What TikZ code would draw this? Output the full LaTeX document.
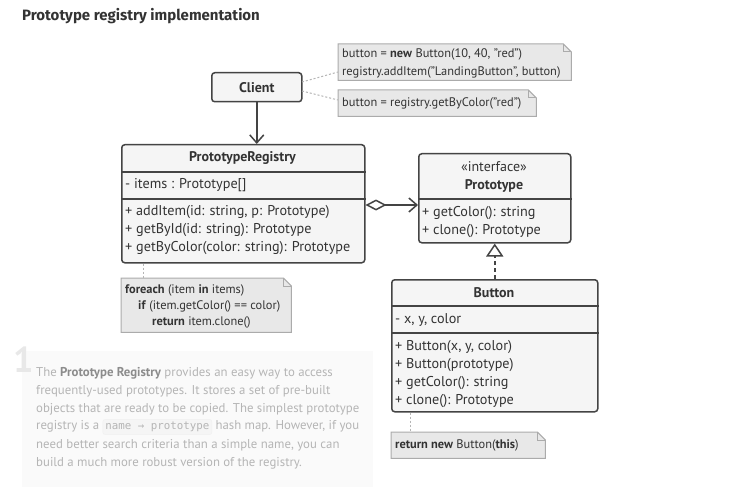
\documentclass[tikz,border=0pt]{standalone}
\usepackage{fontspec}
\setmainfont{PT Sans}
\newfontfamily\titlefont{Fira Sans}
\newfontfamily\codefont{DejaVu Sans Mono}
\usetikzlibrary{arrows.meta}
\definecolor{ink}{HTML}{444444}
\definecolor{txt}{HTML}{333333}
\definecolor{boxfill}{HTML}{F5F5F5}
\definecolor{notefill}{HTML}{E8E8E8}
\definecolor{noteline}{HTML}{ABABAB}
\definecolor{faint}{HTML}{B5B5B5}
\definecolor{panelfill}{HTML}{FAFAFA}
\tikzset{
  umlbox/.style={draw=ink, fill=boxfill, line width=1.5pt, rounded corners=3pt, anchor=north west, inner sep=0pt},
  sepline/.style={draw=ink, line width=1.5pt},
  notearea/.style={anchor=north west, inner sep=0pt},
  noteshape/.style={draw=noteline, fill=notefill, line width=1pt},
  lbl/.style={anchor=west, inner sep=0pt, text=txt, font=\fontsize{14.2}{16}\selectfont},
  nlbl/.style={anchor=west, inner sep=0pt, text=txt, font=\fontsize{12.4}{14}\selectfont},
  hdr/.style={anchor=center, inner sep=0pt, text=txt, font=\fontsize{14}{16}\selectfont\bfseries},
  desc/.style={anchor=west, inner sep=0pt, text=faint, font=\fontsize{12.8}{15}\selectfont},
  conn/.style={draw=ink, line width=1.5pt},
  noteconn/.style={draw=faint, line width=1pt, dash pattern=on 2pt off 2pt},
}
\newcommand{\foldnote}[1]{%
  \path[noteshape] (#1.north west) -- ([xshift=-8pt]#1.north east) -- ([yshift=-8pt]#1.north east) -- (#1.south east) -- (#1.south west) -- cycle;
  \draw[noteline, line width=1pt] ([xshift=-8pt]#1.north east) -- ([xshift=-8pt,yshift=-8pt]#1.north east) -- ([yshift=-8pt]#1.north east);
}
\begin{document}
\begin{tikzpicture}[x=1pt,y=-1pt]
\useasboundingbox (0,0) rectangle (750,492);
\fill[white] (0,0) rectangle (750,492);

% title
\node[anchor=west, inner sep=0pt, text=txt, font=\titlefont\fontsize{15}{17}\selectfont\bfseries] (title) at (22,16) {Prototype registry implementation};

% Client
\node[umlbox, minimum width=90pt, minimum height=29pt] (client) at (211,72) {};
\node[hdr] (clientT) at (client.center) {Client};

% notes near client
\node[notearea, minimum width=233pt, minimum height=36pt] (n1) at (338,44) {};
\foldnote{n1}
\node[nlbl] (n1a) at (342,54) {button = \textbf{new} Button(10, 40, "red")};
\node[nlbl] (n1b) at (342,72) {registry.addItem("LandingButton", button)};

\node[notearea, minimum width=198pt, minimum height=26pt] (n2) at (338,90) {};
\foldnote{n2}
\node[nlbl] (n2a) at (342,103) {button = registry.getByColor("red")};

\coordinate (c1) at (302,82);
\coordinate (c2) at (302,91);
\draw[noteconn] (c1) -- (n1.west |- 0,72);
\draw[noteconn] (c2) -- (n2.west |- 0,100);

% PrototypeRegistry
\node[umlbox, minimum width=243pt, minimum height=118pt] (reg) at (121,144) {};
\draw[sepline] (reg.west |- 0,172) -- (reg.east |- 0,172);
\draw[sepline] (reg.west |- 0,199) -- (reg.east |- 0,199);
\node[hdr] (regT) at (242.5,158) {PrototypeRegistry};
\node[lbl] (reg1) at (125,185) {- items : Prototype[]};
\node[lbl] (reg2) at (125,212) {+ addItem(id: string, p: Prototype)};
\node[lbl] (reg3) at (125,230) {+ getById(id: string): Prototype};
\node[lbl] (reg4) at (125,248) {+ getByColor(color: string): Prototype};

\draw[conn, -{Straight Barb[length=8pt,width=14pt,line width=1.5pt]}] (client.south) -- (client.south |- reg.north);

% Prototype interface
\node[umlbox, minimum width=152pt, minimum height=89pt] (proto) at (418,153) {};
\draw[sepline] (proto.west |- 0,199) -- (proto.east |- 0,199);
\node[anchor=center, inner sep=0pt, text=txt, font=\fontsize{14}{16}\selectfont] (protoS) at (494,167) {«interface»};
\node[hdr] (protoT) at (494,186) {Prototype};
\node[lbl] (p1) at (422,213) {+ getColor(): string};
\node[lbl] (p2) at (422,231) {+ clone(): Prototype};

\draw[conn, {Diamond[open,length=21pt,width=11pt,line width=1.5pt]}-{Straight Barb[length=8pt,width=14pt,line width=1.5pt]}] (reg.east |- 0,205) -- (proto.west |- 0,205);

% Button
\node[umlbox, minimum width=206pt, minimum height=132pt] (button) at (391,279) {};
\draw[sepline] (button.west |- 0,306) -- (button.east |- 0,306);
\draw[sepline] (button.west |- 0,333) -- (button.east |- 0,333);
\node[hdr] (buttonT) at (494,293) {Button};
\node[lbl] (b1) at (395,320) {- x, y, color};
\node[lbl] (b2) at (395,347) {+ Button(x, y, color)};
\node[lbl] (b3) at (395,365) {+ Button(prototype)};
\node[lbl] (b4) at (395,383) {+ getColor(): string};
\node[lbl] (b5) at (395,401) {+ clone(): Prototype};

\draw[conn, dash pattern=on 4pt off 3pt, -{Triangle[open,length=13pt,width=17pt,line width=1.5pt]}] (button.north) -- (proto.south);

% registry note
\node[notearea, minimum width=170pt, minimum height=54pt] (n3) at (121,278) {};
\foldnote{n3}
\node[nlbl] (n3a) at (125,290) {\textbf{foreach} (item \textbf{in} items)};
\node[nlbl] (n3b) at (138,306) {\textbf{if} (item.getColor() == color)};
\node[nlbl] (n3c) at (152,322) {\textbf{return} item.clone()};
\draw[noteconn] (reg.south west -| 143,0) -- (n3.north west -| 143,0);

% button note
\node[notearea, minimum width=154pt, minimum height=26pt] (n4) at (391,432) {};
\foldnote{n4}
\node[nlbl] (n4a) at (395,445) {\textbf{return new} Button(\textbf{this})};
\draw[noteconn] (button.south west -| 410,0) -- (n4.north west -| 410,0);

% description panel
\node[anchor=north west, inner sep=0pt, fill=panelfill, minimum width=351pt, minimum height=136pt] (panel) at (22,351) {};
\node[anchor=north west, inner sep=0pt, text=black!9, font=\fontsize{36}{36}\selectfont\bfseries] (num) at (13,347) {1};
\node[desc] (d1) at (36,373) {The \textbf{\color{black!45}Prototype Registry} provides an easy way to access};
\node[desc] (d2) at (36,391) {frequently-used prototypes. It stores a set of pre-built};
\node[desc] (d3) at (36,409) {objects that are ready to be copied. The simplest prototype};
\node[desc] (d4) at (36,427) {registry is a \tikz[baseline=(cb.base)]\node[fill=black!4, draw=black!6, rounded corners=2pt, inner sep=2.5pt, text=faint, font=\codefont\fontsize{10.8}{12}\selectfont] (cb) {name → prototype};\ hash map. However, if you};
\node[desc] (d5) at (36,445) {need better search criteria than a simple name, you can};
\node[desc] (d6) at (36,463) {build a much more robust version of the registry.};
\end{tikzpicture}
\end{document}
